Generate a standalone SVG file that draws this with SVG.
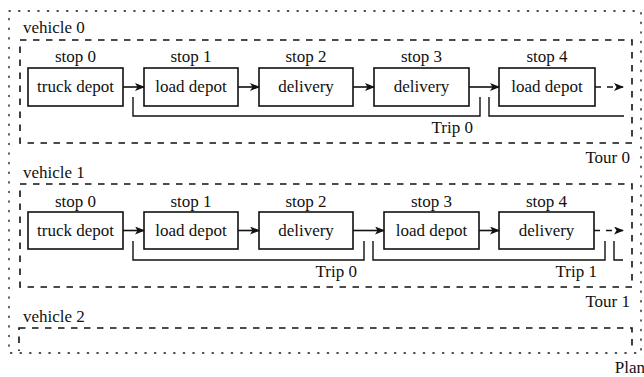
<svg xmlns="http://www.w3.org/2000/svg" width="644" height="377" viewBox="0 0 644 377" font-family="'Liberation Serif', 'Times New Roman', serif" font-size="17">
  <style>
    text { fill: #111; }
    .mid { text-anchor: middle; }
    .end { text-anchor: end; }
    .plan { fill: none; stroke: #111; stroke-width: 1.3; stroke-dasharray: 1.3 8.3; stroke-linecap: round; }
    .tour { fill: none; stroke: #111; stroke-width: 1.6; stroke-dasharray: 6.5 6.5; }
    .box { fill: #fff; stroke: #111; stroke-width: 1.6; }
    .arc { fill: none; stroke: #111; stroke-width: 1.6; marker-end: url(#head); }
    .arc.open { stroke-dasharray: 6 6; }
    .trip { fill: none; stroke: #111; stroke-width: 1.4; }
  </style>
  <defs>
    <marker id="head" viewBox="0 0 10 8" refX="9" refY="4" markerWidth="10" markerHeight="8" markerUnits="userSpaceOnUse" orient="auto">
      <path d="M0,0 L10,4 L0,8 L2.5,4 z" fill="#111"/>
    </marker>
    <clipPath id="planClip">
      <rect x="0" y="0" width="644" height="351"/>
    </clipPath>
  </defs>

  <!-- plan frame -->
  <g id="plan">
    <rect class="plan" x="9" y="11" width="632" height="342"/>
    <text class="end" x="645" y="373">Plan</text>
  </g>

  <!-- vehicle 0 tour -->
  <g id="vehicle0">
    <text x="23" y="33">vehicle 0</text>
    <rect class="tour" x="20" y="40" width="612" height="103"/>
    <text class="end" x="630" y="163">Tour 0</text>
  </g>
  <g id="v0-stop0"><text class="mid" x="75.5" y="62">stop 0</text><rect class="box" x="28" y="68" width="95" height="38"/><text class="mid" x="75.5" y="92">truck depot</text></g>
  <g id="v0-stop1"><text class="mid" x="191" y="62">stop 1</text><rect class="box" x="144" y="68" width="94" height="38"/><text class="mid" x="191" y="92">load depot</text></g>
  <g id="v0-stop2"><text class="mid" x="306" y="62">stop 2</text><rect class="box" x="259" y="68" width="94" height="38"/><text class="mid" x="306" y="92">delivery</text></g>
  <g id="v0-stop3"><text class="mid" x="421.5" y="62">stop 3</text><rect class="box" x="374" y="68" width="95" height="38"/><text class="mid" x="421.5" y="92">delivery</text></g>
  <g id="v0-stop4"><text class="mid" x="547" y="62">stop 4</text><rect class="box" x="499" y="68" width="96" height="38"/><text class="mid" x="547" y="92">load depot</text></g>

  <!-- vehicle 1 tour -->
  <g id="vehicle1">
    <text x="23" y="178">vehicle 1</text>
    <rect class="tour" x="20" y="184" width="612" height="103"/>
    <text class="end" x="630" y="307">Tour 1</text>
  </g>
  <g id="v1-stop0"><text class="mid" x="75.5" y="207">stop 0</text><rect class="box" x="28" y="212" width="95" height="37"/><text class="mid" x="75.5" y="236">truck depot</text></g>
  <g id="v1-stop1"><text class="mid" x="191" y="207">stop 1</text><rect class="box" x="144" y="212" width="94" height="37"/><text class="mid" x="191" y="236">load depot</text></g>
  <g id="v1-stop2"><text class="mid" x="306" y="207">stop 2</text><rect class="box" x="259" y="212" width="94" height="37"/><text class="mid" x="306" y="236">delivery</text></g>
  <g id="v1-stop3"><text class="mid" x="431.5" y="207">stop 3</text><rect class="box" x="384" y="212" width="95" height="37"/><text class="mid" x="431.5" y="236">load depot</text></g>
  <g id="v1-stop4"><text class="mid" x="546.5" y="207">stop 4</text><rect class="box" x="499" y="212" width="95" height="37"/><text class="mid" x="546.5" y="236">delivery</text></g>

  <!-- vehicle 2 tour (runs past the plan frame) -->
  <g id="vehicle2">
    <text x="23" y="322">vehicle 2</text>
    <rect class="tour" x="19" y="328" width="613" height="103" clip-path="url(#planClip)"/>
  </g>

  <!-- connectors and trip brackets -->
  <g id="connectors">
    <line class="arc" x1="123" y1="87" x2="144" y2="87"/>
    <line class="arc" x1="238" y1="87" x2="259" y2="87"/>
    <line class="arc" x1="353" y1="87" x2="374" y2="87"/>
    <line class="arc" x1="469" y1="87" x2="499" y2="87"/>
    <line class="arc open" x1="595" y1="87" x2="623" y2="87"/>

    <line class="arc" x1="123" y1="230.5" x2="144" y2="230.5"/>
    <line class="arc" x1="238" y1="230.5" x2="259" y2="230.5"/>
    <line class="arc" x1="353" y1="230.5" x2="384" y2="230.5"/>
    <line class="arc" x1="479" y1="230.5" x2="499" y2="230.5"/>
    <line class="arc open" x1="594" y1="230.5" x2="623" y2="230.5"/>

    <path class="trip" d="M133,97 V116 H480 V97"/>
    <path class="trip" d="M489,97 V116 H624"/>
    <text class="end" x="473" y="133">Trip 0</text>

    <path class="trip" d="M133,241 V260 H364 V241"/>
    <path class="trip" d="M373,241 V260 H605 V241"/>
    <path class="trip" d="M614,241 V260 H623"/>
    <text class="end" x="357" y="277">Trip 0</text>
    <text class="end" x="597" y="277">Trip 1</text>
  </g>
</svg>
